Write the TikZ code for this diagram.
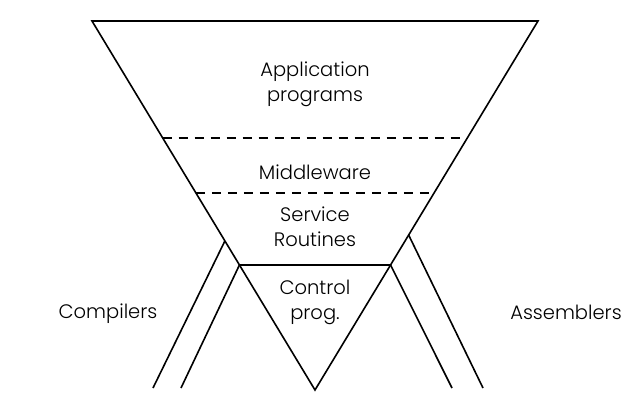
\documentclass[tikz,border=0pt]{standalone}
\usepackage{fontspec}
\setmainfont{Poppins}[UprightFont=* Light]
\usetikzlibrary{calc}
\begin{document}
\begin{tikzpicture}[x=1pt,y=-1pt,line width=1.6pt,
  lbl/.style={font=\fontsize{19.5}{25}\selectfont,align=center,inner sep=0pt},
  divider/.style={dash pattern=on 9pt off 7pt}]
\useasboundingbox (0,0) rectangle (638,404);
\coordinate (TL) at (92,21);
\coordinate (TR) at (538,21);
\coordinate (B) at (315,390);
\draw[line join=miter] (TL) -- (TR) -- (B) -- cycle;
% layer boundaries
\coordinate (d1l) at ($(TL)!0.3171!(B)$);
\coordinate (d1r) at ($(TR)!0.3171!(B)$);
\coordinate (d2l) at ($(TL)!0.4661!(B)$);
\coordinate (d2r) at ($(TR)!0.4661!(B)$);
\coordinate (cl) at ($(TL)!0.6612!(B)$);
\coordinate (cr) at ($(TR)!0.6612!(B)$);
\draw[divider] (d1l) -- (d1r);
\draw[divider] (d2l) -- (d2r);
\draw (cl) -- (cr);
% side strips
\coordinate (lo) at ($(TL)!0.596!(B)$);
\coordinate (ro) at ($(TR)!0.58!(B)$);
\coordinate (lob) at (153,388);
\coordinate (lib) at (181,388);
\coordinate (rib) at (452,388);
\coordinate (rob) at (483,388);
\draw (lob) -- (lo);
\draw (lib) -- (cl);
\draw (rib) -- (cr);
\draw (rob) -- (ro);
% labels
\node[lbl] (app) at (315,84) {Application\\programs};
\node[lbl] (mid) at (315,172) {Middleware};
\node[lbl] (svc) at (315,227) {Service\\Routines};
\node[lbl] (ctl) at (315,302) {Control\\prog.};
\node[lbl] (cmp) at (108,314) {Compilers};
\node[lbl] (asm) at (566,312) {Assemblers};
\end{tikzpicture}
\end{document}
